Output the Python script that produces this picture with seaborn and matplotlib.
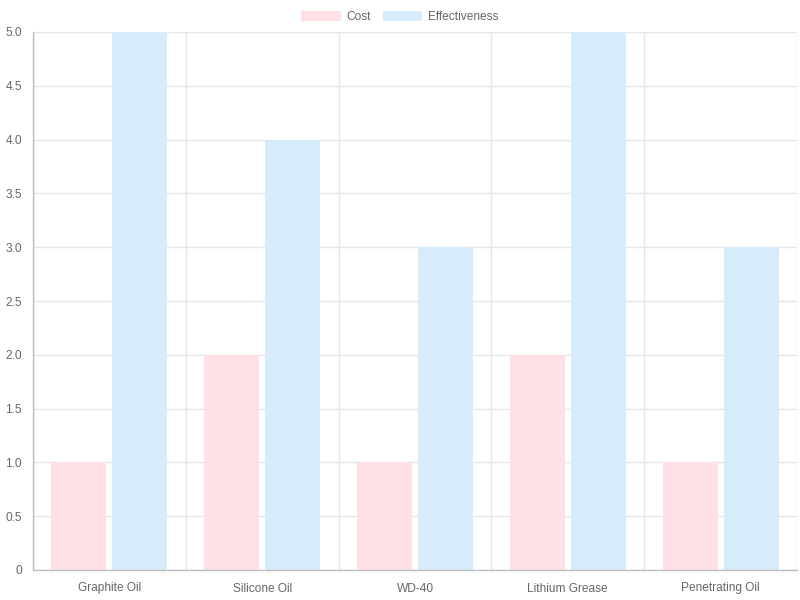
import pandas as pd
import numpy as np
import matplotlib.pyplot as plt
import seaborn as sns
from matplotlib.patches import Patch

products = ['Graphite Oil', 'Silicone Oil', 'WD-40', 'Lithium Grease', 'Penetrating Oil']
cost = [1, 2, 1, 2, 1]
effectiveness = [5, 4, 3, 5, 3]
series_names = ['Cost', 'Effectiveness']
y_ticks = [0, 0.5, 1.0, 1.5, 2.0, 2.5, 3.0, 3.5, 4.0, 4.5, 5.0]

df = pd.DataFrame({
    'Product': products * 2,
    'Series': ['Cost'] * len(products) + ['Effectiveness'] * len(products),
    'Value': cost + effectiveness,
})

sns.set_style('white')
plt.rcParams['font.family'] = ['Liberation Sans', 'DejaVu Sans']

colors = {'Cost': '#ffe0e6', 'Effectiveness': '#d7ecfb'}

fig = plt.figure(figsize=(8, 6), dpi=100)
ax = fig.add_axes([33 / 800, 1 - 570 / 600, 764 / 800, 538 / 600])

sns.barplot(data=df, x='Product', y='Value', hue='Series', order=products,
            hue_order=series_names, palette=colors, saturation=1, width=0.8, gap=0.1,
            edgecolor='none', linewidth=0, legend=False, ax=ax)

ax.set_xlim(-0.5, len(products) - 0.5)
ax.set_ylim(0, 5)
ax.set_xlabel('')
ax.set_ylabel('')

grid_c = '#e6e6e6'
ax.set_yticks(y_ticks)
ax.set_yticklabels(['0'] + [f'{v:.1f}' for v in y_ticks[1:]])
ax.set_xticks(np.arange(-0.5, len(products), 1.0), minor=True)
ax.grid(axis='y', color=grid_c, linewidth=1)
ax.grid(axis='x', which='minor', color=grid_c, linewidth=1)
ax.set_axisbelow(True)

ax.tick_params(axis='x', which='major', length=0, pad=9, labelsize=8.6, colors='#666666')
ax.tick_params(axis='x', which='minor', length=5.8, width=1, color=grid_c)
ax.tick_params(axis='y', length=5.8, width=1, color=grid_c, pad=2.2, labelsize=8.6,
               labelcolor='#666666')

for s in ['top', 'right']:
    ax.spines[s].set_visible(False)
for s in ['left', 'bottom']:
    ax.spines[s].set_color('#bdbdbd')
    ax.spines[s].set_linewidth(1)

handles = [Patch(facecolor=colors[n], edgecolor='none', label=n) for n in series_names]
fig.legend(handles=handles, loc='upper center', bbox_to_anchor=(0.5, 1.0), ncol=2,
           frameon=False, fontsize=8.6, handlelength=3.3, handleheight=0.9,
           columnspacing=1.0, handletextpad=0.5, labelcolor='#666666')

fig.savefig('out.png', dpi=100)
